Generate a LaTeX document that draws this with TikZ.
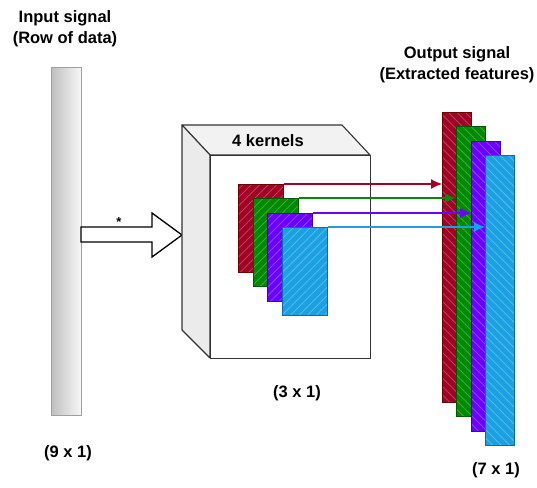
\documentclass[tikz,border=0pt]{standalone}
\usepackage{fontspec}
\setmainfont{Liberation Sans}
\usetikzlibrary{arrows.meta,patterns.meta}
\definecolor{kred}{HTML}{A20025}\definecolor{kredD}{HTML}{6F0000}
\definecolor{kgreen}{HTML}{008A00}\definecolor{kgreenD}{HTML}{005700}
\definecolor{kpurple}{HTML}{6A00FF}\definecolor{kpurpleD}{HTML}{3700CC}
\definecolor{kblue}{HTML}{1BA1E2}\definecolor{kblueD}{HTML}{006EAF}
\definecolor{edge}{HTML}{333333}
\tikzset{
  lbl/.style={font=\fontsize{16.5}{21}\selectfont\bfseries, align=center, inner sep=0pt},
  inbar/.style={draw=gray!75, left color=gray!50, right color=gray!6, minimum width=30pt, minimum height=348pt, inner sep=0pt, anchor=north west, line width=0.9pt},
  kern/.style={draw=#1D, preaction={fill=#1}, pattern={Lines[angle=45,distance=6pt,line width=0.9pt]}, pattern color=#1!75!white, minimum width=45pt, minimum height=88pt, inner sep=0pt, anchor=north west, line width=0.9pt},
  obar/.style={draw=#1D, preaction={fill=#1}, pattern={Lines[angle=-45,distance=6pt,line width=0.9pt]}, pattern color=#1!75!white, minimum width=29pt, minimum height=290pt, inner sep=0pt, anchor=north west, line width=0.9pt},
  conn/.style={draw=#1, line width=1.2pt, -{Latex[length=11pt,width=10pt]}},
  cubeface/.style={draw=edge, line width=1.1pt, line join=round},
}
\begin{document}
\begin{tikzpicture}[x=1pt,y=-1pt]
\useasboundingbox (0,0) rectangle (537,487);
% labels
\node[lbl] (tin) at (65,29) {Input signal\\(Row of data)};
\node[lbl] (tout) at (457,65) {Output signal\\(Extracted features)};
\node[lbl] (t3) at (297,393) {(3 x 1)};
\node[lbl] (t9) at (68,453) {(9 x 1)};
\node[lbl] (t7) at (496,470) {(7 x 1)};
% input bar
\node[inbar] (in) at (51,67) {};
% block arrow
\draw[fill=white, draw=black, line width=1.3pt, line join=miter]
  (81,227) -- (152,227) -- (152,213) -- (182,235) -- (152,257) -- (152,242) -- (81,242) -- cycle;
\node[font=\fontsize{13}{13}\selectfont\bfseries, inner sep=0pt] (star) at (119,222) {*};
% cube
\draw[cubeface, fill=gray!10] (182,125) -- (342,125) -- (370,155) -- (210,155) -- cycle;
\draw[cubeface, fill=gray!16] (182,125) -- (210,155) -- (210,358) -- (182,330) -- cycle;
\node[cubeface, fill=white, minimum width=160pt, minimum height=203pt, inner sep=0pt, anchor=north west] (front) at (210,155) {};
\node[lbl] (tk) at (268,141) {4 kernels};
% output bars
\node[obar=kred] (o1) at (442,112) {};
\node[obar=kgreen] (o2) at (456,126) {};
\node[obar=kpurple] (o3) at (471,141) {};
\node[obar=kblue] (o4) at (485,155) {};
% kernels
\node[kern=kred] (k1) at (238,184) {};
\node[kern=kgreen] (k2) at (253,198) {};
\node[kern=kpurple] (k3) at (267,213) {};
\node[kern=kblue] (k4) at (282,227) {};
% connectors
\draw[conn=kred] (k1.north east) -- (k1.north east -| o1.west);
\draw[conn=kgreen] (k2.north east) -- (k2.north east -| o2.west);
\draw[conn=kpurple] (k3.north east) -- (k3.north east -| o3.west);
\draw[conn=kblue] (k4.north east) -- (k4.north east -| o4.west);
\end{tikzpicture}
\end{document}
